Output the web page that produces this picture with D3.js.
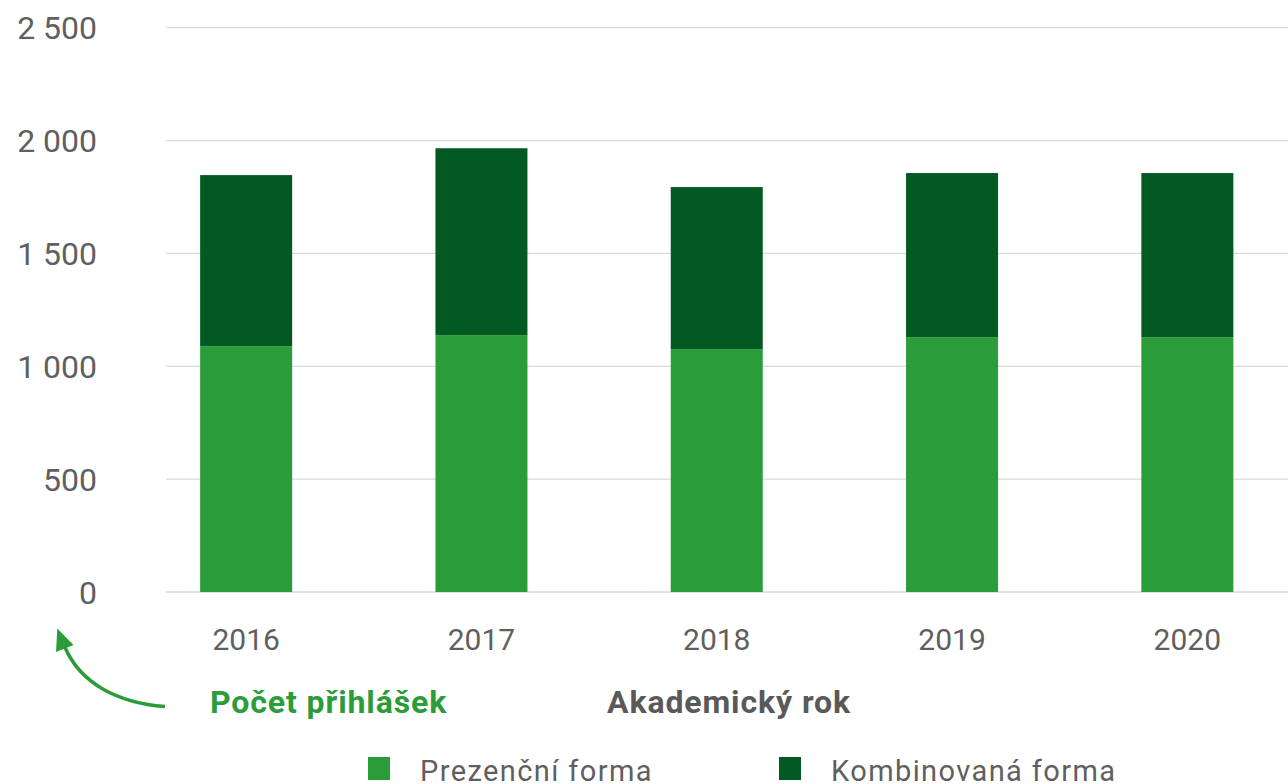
<!DOCTYPE html>
<html>
<head>
<meta charset="utf-8">
<script src="https://cdn.jsdelivr.net/npm/d3@7"></script>
<style>
  html, body { margin: 0; padding: 0; background: #fff; }
  svg { display: block; font-family: Roboto, "Noto Sans", sans-serif; }
</style>
</head>
<body>
<svg id="chart" width="1288" height="784"></svg>
<script>
// data
const years = ["2016", "2017", "2018", "2019", "2020"];
const prezencni = [1089, 1138, 1076, 1129, 1129];
const kombinovana = [758, 828, 718, 727, 727];
const yTicks = [0, 500, 1000, 1500, 2000, 2500];
const seriesNames = ["Prezenční forma", "Kombinovaná forma"];
const colors = ["#2b9c3a", "#025a22"];

const svg = d3.select("#chart");

const x = d3.scaleBand()
    .domain(years)
    .range([128.5, 1305])
    .paddingInner(0.609)
    .paddingOuter(0.3045);

const y = d3.scaleLinear()
    .domain([0, 2500])
    .range([592, 27.7]);

// gridlines
svg.append("g")
    .selectAll("line")
    .data(yTicks)
    .enter()
    .append("line")
    .attr("x1", 166)
    .attr("x2", 1288)
    .attr("y1", d => y(d))
    .attr("y2", d => y(d))
    .attr("stroke", "#d9d9d9")
    .attr("stroke-width", 1.3);

// y tick labels
const fmt = d => d3.format(",")(d).replace(/,/g, " ");
svg.append("g")
    .selectAll("text")
    .data(yTicks)
    .enter()
    .append("text")
    .attr("x", 97)
    .attr("y", d => y(d))
    .attr("dy", "0.36em")
    .attr("text-anchor", "end")
    .attr("font-size", "32px")
    .attr("fill", "#5f5f5f")
    .text(fmt);

// stacked bars
const rows = years.map((yr, i) => ({ year: yr, p: prezencni[i], k: kombinovana[i] }));
const stacked = d3.stack().keys(["p", "k"])(rows);

svg.append("g")
    .selectAll("g")
    .data(stacked)
    .enter()
    .append("g")
    .attr("fill", (d, i) => colors[i])
    .selectAll("rect")
    .data(d => d)
    .enter()
    .append("rect")
    .attr("x", d => x(d.data.year))
    .attr("width", x.bandwidth())
    .attr("y", d => y(d[1]))
    .attr("height", d => y(d[0]) - y(d[1]));

// x tick labels
svg.append("g")
    .selectAll("text")
    .data(years)
    .enter()
    .append("text")
    .attr("x", d => x(d) + x.bandwidth() / 2)
    .attr("y", 650)
    .attr("text-anchor", "middle")
    .attr("font-size", "30px")
    .attr("fill", "#5f5f5f")
    .text(d => d);

// axis titles
svg.append("text")
    .attr("x", 210)
    .attr("y", 713)
    .attr("font-size", "32px")
    .attr("font-weight", "bold")
    .attr("letter-spacing", "0.9px")
    .attr("fill", "#2b9c3a")
    .text("Počet přihlášek");

svg.append("text")
    .attr("x", 729)
    .attr("y", 713)
    .attr("text-anchor", "middle")
    .attr("font-size", "32px")
    .attr("font-weight", "bold")
    .attr("letter-spacing", "0.9px")
    .attr("fill", "#595959")
    .text("Akademický rok");

// curved arrow pointing at the y axis
svg.append("path")
    .attr("d", "M165,706.5 C120,703 80,685 64,645")
    .attr("fill", "none")
    .attr("stroke", "#2b9c3a")
    .attr("stroke-width", 3.5);
svg.append("path")
    .attr("d", "M57.3,628.5 L73.5,645 L56,652 Z")
    .attr("fill", "#2b9c3a");

// legend
const legendX = [368, 779];
const legend = svg.append("g")
    .selectAll("g")
    .data(seriesNames)
    .enter()
    .append("g")
    .attr("transform", (d, i) => `translate(${legendX[i]},757)`);

legend.append("rect")
    .attr("width", 22)
    .attr("height", 23)
    .attr("fill", (d, i) => colors[i]);

legend.append("text")
    .attr("x", 52)
    .attr("y", 24)
    .attr("font-size", "29px")
    .attr("letter-spacing", "1.4px")
    .attr("fill", "#5f5f5f")
    .text(d => d);
</script>
</body>
</html>
